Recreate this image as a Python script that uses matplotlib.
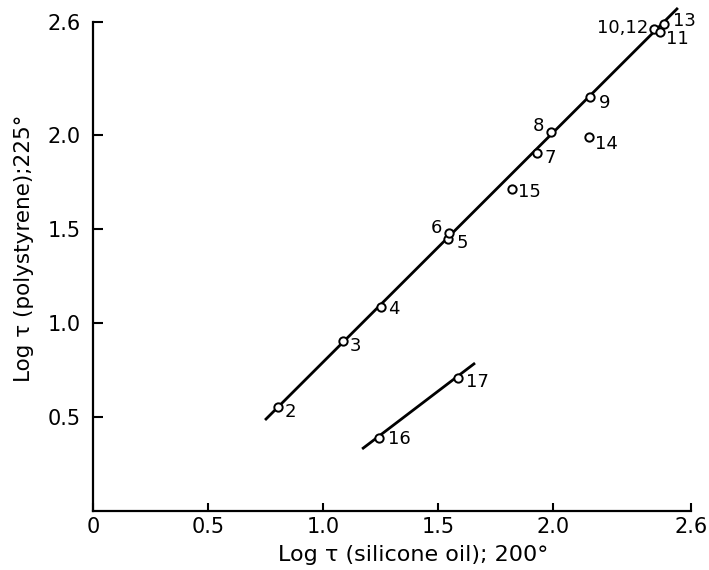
import matplotlib
matplotlib.use("Agg")
import matplotlib.pyplot as plt

# ---- data ----
labels = ["2", "3", "4", "5", "6", "7", "8", "9", "10,12", "11", "13", "14", "15", "16", "17"]
x_vals = [0.804, 1.087, 1.252, 1.543, 1.548, 1.930, 1.991, 2.161, 2.439, 2.465, 2.483, 2.157, 1.822, 1.243, 1.587]
y_vals = [0.553, 0.904, 1.085, 1.447, 1.479, 1.904, 2.016, 2.202, 2.564, 2.548, 2.590, 1.989, 1.713, 0.388, 0.707]
# label offsets in pixels (dx, dy) and horizontal alignment
label_dx = [7, 7, 7, 9, -7, 8, -7, 9, -6, 6, 9, 6, 6, 9, 8]
label_dy = [-5, -5, -2, -4, 5, -5, 6, -6, 1, -7, 3, -7, -3, -1, -4]
label_ha = ["left", "left", "left", "left", "right", "left", "right", "left", "right", "left", "left", "left", "left", "left", "left"]

line1_x = [0.748, 2.543]
line1_y = [0.484, 2.676]
line2_x = [1.170, 1.661]
line2_y = [0.330, 0.787]

xticks = [0, 0.5, 1.0, 1.5, 2.0, 2.6]
xticklabels = ["0", "0.5", "1.0", "1.5", "2.0", "2.6"]
yticks = [0.5, 1.0, 1.5, 2.0, 2.6]
yticklabels = ["0.5", "1.0", "1.5", "2.0", "2.6"]

xlabel = "Log τ (silicone oil); 200°"
ylabel = "Log τ (polystyrene);225°"

# ---- figure ----
W, H = 709, 570
fig = plt.figure(figsize=(W / 100, H / 100), dpi=100)
left_px, right_px, bot_px, top_px = 93, 691, 511, 7.2
ax = fig.add_axes([left_px / W, 1 - bot_px / H, (right_px - left_px) / W, (bot_px - top_px) / H])
ax.set_xlim(0, 2.6)
ax.set_ylim(0, 2.68)

ax.plot(line1_x, line1_y, color="black", lw=2.0, clip_on=False, solid_capstyle="butt")
ax.plot(line2_x, line2_y, color="black", lw=2.0, clip_on=False, solid_capstyle="butt")
ax.plot(x_vals, y_vals, linestyle="none", marker="o", markersize=6,
        markerfacecolor="white", markeredgecolor="black", markeredgewidth=1.4,
        clip_on=False, zorder=3)

for lab, x, y, dx, dy, ha in zip(labels, x_vals, y_vals, label_dx, label_dy, label_ha):
    ax.annotate(lab, (x, y), xytext=(dx, dy), textcoords="offset pixels",
                ha=ha, va="center", fontsize=13)

for s in ["top", "right"]:
    ax.spines[s].set_visible(False)
ax.spines["left"].set_bounds(0, 2.6)
ax.spines["bottom"].set_bounds(0, 2.6)
for s in ["left", "bottom"]:
    ax.spines[s].set_linewidth(1.6)

ax.set_xticks(xticks)
ax.set_xticklabels(xticklabels)
ax.set_yticks(yticks)
ax.set_yticklabels(yticklabels)
ax.tick_params(axis="y", direction="in", length=7, width=1.5, pad=9, labelsize=15)
ax.tick_params(axis="x", direction="in", length=6, width=1.5, pad=4, labelsize=15)

fig.text(413 / W, 1 - 555 / H, xlabel, ha="center", va="center", fontsize=16)
fig.text(24 / W, 1 - 248 / H, ylabel, ha="center", va="center", rotation=90, fontsize=15.5)

fig.savefig("out.png", dpi=100)
